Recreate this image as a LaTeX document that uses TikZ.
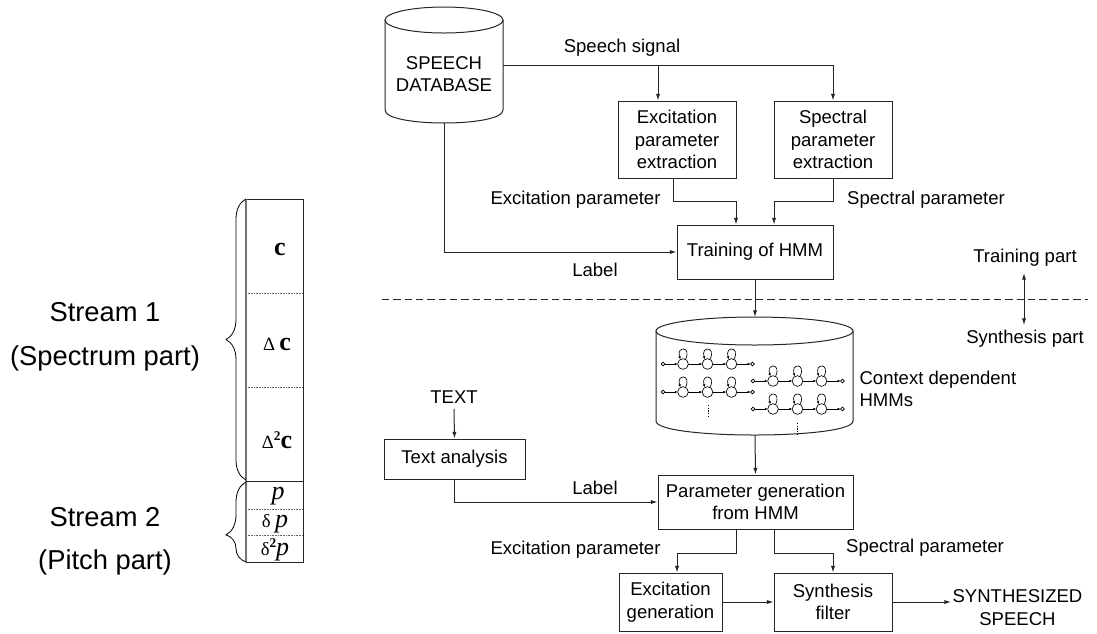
\documentclass[tikz,border=0pt]{standalone}
\usepackage{fontspec}
\setmainfont{Liberation Sans}
\newfontfamily\serifrm{Liberation Serif}
\usetikzlibrary{arrows.meta,decorations.pathreplacing,calc}
\newcommand\fsn{\fontsize{13.9}{16.8}\selectfont}
\newcommand\fsb{\fontsize{20.5}{25.5}\selectfont}
\newcommand\hmmrow[2]{%
\begin{scope}[shift={(#1,#2)}]
 \draw[st] (0,0) circle[radius=1.4pt];
 \foreach \b in {20,44.5,68.5}{%
   \draw[st] (\b,0) circle[radius=4pt];
   \draw[sarr] (\b+2.5,-4.6) .. controls (\b+9,-18) and (\b-7,-18) .. (\b-2.6,-4.8);}
 \draw[st] (89.5,0) circle[radius=1.4pt];
 \draw[sarr] (1.9,0) -- (14.7,0);
 \draw[sarr] (25.3,0) -- (39.2,0);
 \draw[sarr] (49.8,0) -- (63.2,0);
 \draw[sarr] (73.8,0) -- (87.6,0);
\end{scope}}
\begin{document}
\begin{tikzpicture}[x=0.75pt,y=-0.75pt,
  ln/.style={line width=0.75pt, draw=black!85},
  box/.style={ln, draw, align=center, font=\fsn, inner sep=0pt},
  wh/.style 2 args={minimum width=#1*0.75pt, minimum height=#2*0.75pt},
  arr/.style={ln, -{Latex[length=5pt,width=3.2pt]}},
  lbl/.style={font=\fsn, inner sep=1pt, align=center},
  st/.style={line width=0.5pt, draw=black},
  sarr/.style={line width=0.5pt, -{Latex[length=2.2pt,width=2pt]}},
  dotl/.style={line width=0.5pt, draw=black!60, dash pattern=on 0.6pt off 0.6pt},
  colt/.style={font=\serifrm\fontsize{19.5}{21}\selectfont, inner sep=0pt},
  brc/.style={line width=0.6pt, decorate}]
\useasboundingbox (0,0) rectangle (1097,633);

% ---- speech database cylinder
\draw[ln] (444,20) ellipse [x radius=59, y radius=13];
\draw[ln] (385,20) -- (385,110) .. controls (385,127.33) and (503,127.33) .. (503,110) -- (503,20);
\node[lbl] (db) at (444,74) {SPEECH\\DATABASE};
\coordinate (dbR) at (503,65);
\coordinate (dbB) at (444,123);

% ---- boxes
\node[box,wh={118}{77}] (exext) at (677,139.5) {Excitation\\parameter\\extraction};
\node[box,wh={118}{77}] (spext) at (833,139.5) {Spectral\\parameter\\extraction};
\node[box,wh={156}{54}] (train) at (755,252) {Training of HMM};
\node[box,wh={141}{40}] (textan) at (454.5,459) {Text analysis};
\node[box,wh={195}{54}] (pgen) at (755.5,502) {Parameter generation\\from HMM};
\node[box,wh={103}{58}] (exgen) at (670.5,602) {Excitation\\generation};
\node[box,wh={118}{58}] (synf) at (833,602) {Synthesis\\filter};

% ---- HMM cylinder
\draw[ln] (754.5,331) ellipse [x radius=98.5, y radius=14];
\draw[ln] (656,331) -- (656,421) .. controls (656,439.67) and (853,439.67) .. (853,421) -- (853,331);
\coordinate (hmmT) at (755,317);
\coordinate (hmmB) at (755,435);
\hmmrow{663}{364}
\hmmrow{663}{392}
\hmmrow{753}{381}
\hmmrow{753}{409}
\draw[line width=0.5pt, dash pattern=on 1pt off 1pt] (708,405) -- (708,418);
\draw[line width=0.5pt, dash pattern=on 1pt off 1pt] (797,423) -- (797,435);

% ---- labels
\node[lbl] (lss) at (622,48) {Speech signal};
\node[lbl] (l1) at (575.5,200) {Excitation parameter};
\node[lbl] (l2) at (926,200) {Spectral parameter};
\node[lbl] (l3) at (595,270) {Label};
\node[lbl] (tp) at (1025,258) {Training part};
\node[lbl] (sp) at (1025,339) {Synthesis part};
\node[lbl, align=left, anchor=west] (cd) at (858,389) {Context dependent\\HMMs};
\node[lbl] (txt) at (454,397) {TEXT};
\node[lbl] (l4) at (595,488) {Label};
\node[lbl] (l5) at (575.5,550) {Excitation parameter};
\node[lbl] (l6) at (925,548) {Spectral parameter};
\node[lbl, anchor=west] (out) at (951,607.5) {SYNTHESIZED\\SPEECH};

% ---- connectors
\draw[arr] (dbR) -| (spext.north);
\draw[arr] (dbR -| 658,0) -- (exext.north -| 658,0);
\draw[arr] (dbB) |- (train.west);
\draw[arr] (exext.south -| 673,0) |- (736,201) -- (train.north -| 736,0);
\draw[arr] (spext.south) |- (774,201) -- (train.north -| 774,0);
\draw[arr] (train.south) -- (hmmT);
\draw[ln, dash pattern=on 5.5pt off 3pt] (382,299) -- (1088,299);
\coordinate (div) at (1024,299);
\coordinate (tpa) at (1024,273);
\coordinate (spa) at (1024,325);
\draw[arr] (div) -- (tpa);
\draw[arr] (div) -- (spa);
\draw[arr] (hmmB) -- (pgen.north);
\draw[arr] ([yshift=-3pt]txt.south) -- (textan.north);
\draw[arr] (textan.south) |- (pgen.west);
\draw[arr] (pgen.south -| 736,0) |- (677,553) -- (exgen.north -| 677,0);
\draw[arr] (pgen.south -| 774,0) |- (833,553) -- (synf.north);
\draw[arr] (exgen.east) -- (synf.west);
\draw[arr] (synf.east) -- (synf.east -| out.west);

% ---- stream column
\draw[ln] (246,199) rectangle (303,562);
\draw[line width=1.2pt, draw=black!55] (246,199) -- (246,562);
\draw[ln] (246,481) -- (303,481);
\draw[dotl] (246,293) -- (303,293);
\draw[dotl] (246,387) -- (303,387);
\draw[dotl] (246,509) -- (303,509);
\draw[dotl] (246,535) -- (303,535);
\node[colt] (c0) at (280,249) {\textbf{c}};
\node[colt] (c1) at (277,344) {{\fontsize{14}{14}\selectfont Δ}\,\textbf{c}};
\node[colt] (c2) at (277,440) {{\fontsize{14}{14}\selectfont Δ}\raisebox{6pt}{\fontsize{10}{10}\selectfont\bfseries 2}\textbf{c}};
\node[colt] (p0) at (278,496) {\textit{p}};
\node[colt] (p1) at (275,524) {{\fontsize{14}{14}\selectfont δ}\,\textit{p}};
\node[colt] (p2) at (275,550) {{\fontsize{14}{14}\selectfont δ}\raisebox{6pt}{\fontsize{10}{10}\selectfont\bfseries 2}\textit{p}};
\draw[brc, decoration={brace, amplitude=15pt}] (246,480) -- (246,199);
\draw[brc, decoration={brace, amplitude=15pt, aspect=0.34}] (246,562) -- (246,482);
\node[font=\fsb] (s1) at (105,312) {Stream 1};
\node[font=\fsb] (s1b) at (105,358) {(Spectrum part)};
\node[font=\fsb] (s2) at (105,517) {Stream 2};
\node[font=\fsb] (s2b) at (105,562) {(Pitch part)};
\end{tikzpicture}
\end{document}
